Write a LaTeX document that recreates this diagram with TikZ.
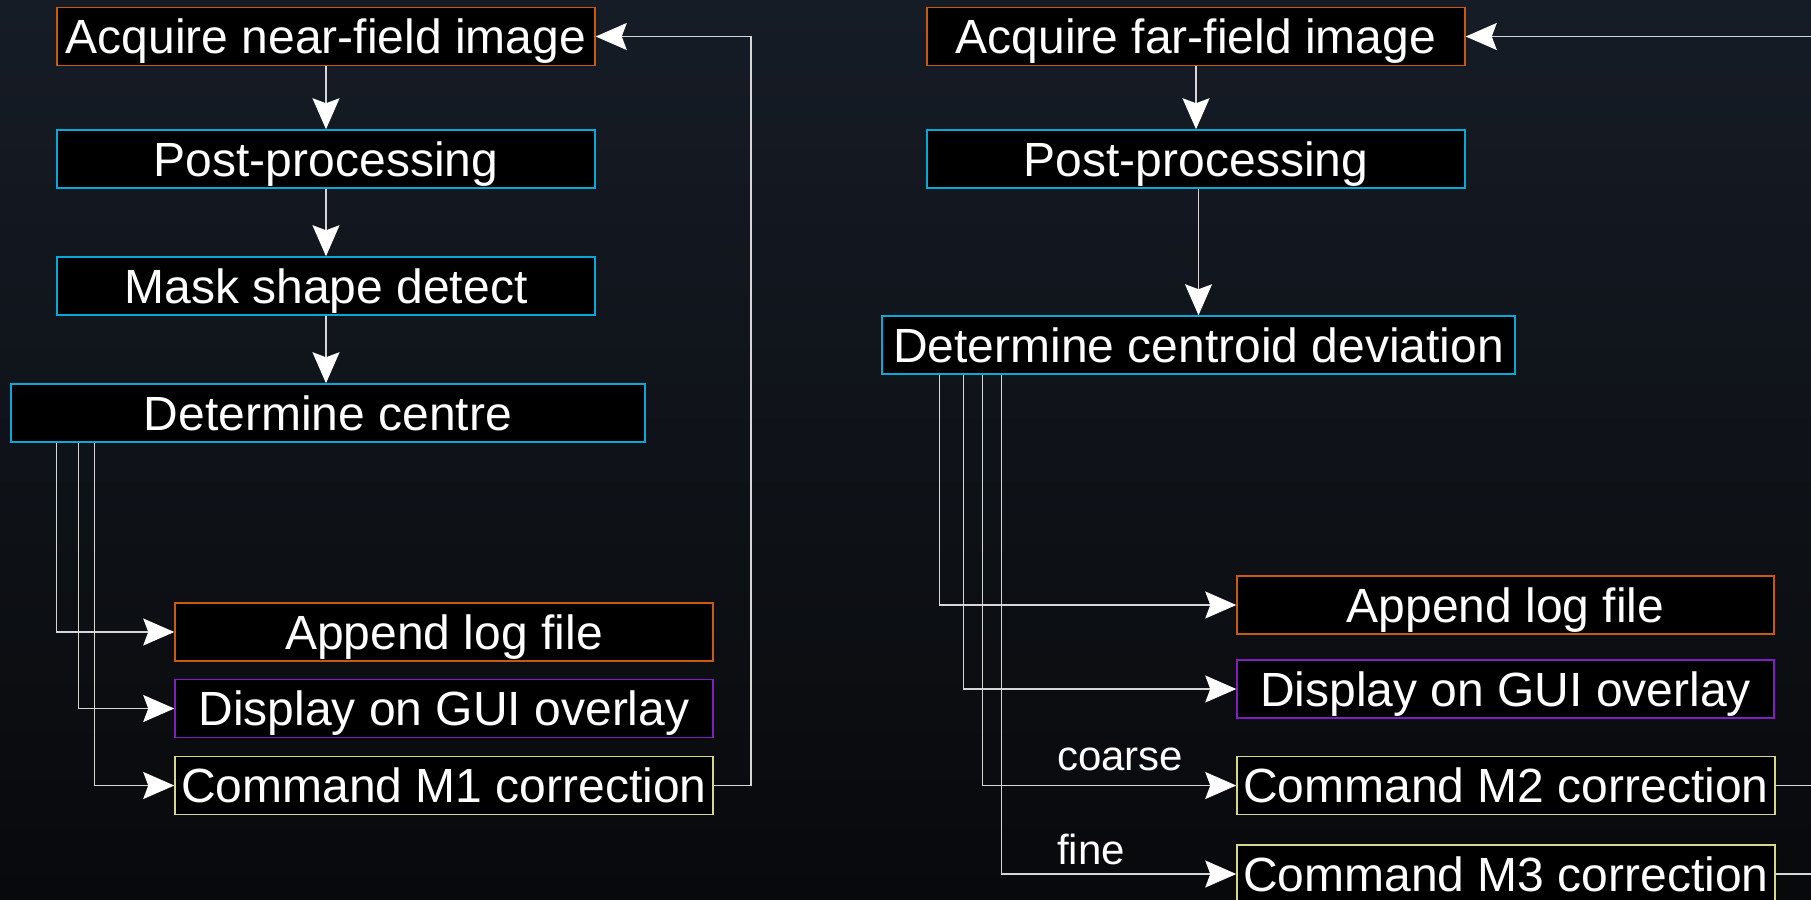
\documentclass[tikz,border=0pt]{standalone}
\usepackage{fontspec}
\setmainfont{Liberation Sans}
\usetikzlibrary{arrows.meta,calc}
\definecolor{bgtop}{HTML}{161C26}
\definecolor{bgbot}{HTML}{08090B}
\definecolor{cOr}{HTML}{C85A14}
\definecolor{cCy}{HTML}{0AA8D6}
\definecolor{cPu}{HTML}{7F1FC0}
\definecolor{cYe}{HTML}{D6D68C}
\definecolor{linec}{HTML}{D6D6D6}
\begin{document}
\begin{tikzpicture}[x=1pt,y=-1pt,
  box/.style={draw, fill=black, text=white, line width=1.5pt, inner sep=0pt,
    minimum height=58pt, minimum width=538pt, text height=34.4pt, text depth=0pt,
    font=\fontsize{48}{57}\selectfont, anchor=center},
  lbl/.style={text=white, inner sep=0pt, font=\fontsize{42}{50}\selectfont},
  conn/.style={draw=linec, line width=1.5pt},
  arr/.style={conn, -{Stealth[length=31pt,width=27pt,inset=5pt,white]}}]
\useasboundingbox (0,0) rectangle (1811,899);
\clip (0,0) rectangle (1811,899);
\shade[top color=bgtop, bottom color=bgbot] (0,0) rectangle (1811,899);

% left column
\node[box, draw=cOr] (acqN) at (326,36.5) {Acquire near-field image};
\node[box, draw=cCy] (postN) at (326,159) {Post-processing};
\node[box, draw=cCy] (maskN) at (326,286) {Mask shape detect};
\node[box, draw=cCy, minimum width=634pt] (centN) at (328,413) {Determine centre};
\node[box, draw=cOr] (logN) at (444,632) {Append log file};
\node[box, draw=cPu] (guiN) at (444,708.5) {Display on GUI overlay};
\node[box, draw=cYe] (m1) at (444,785.5) {Command M1 correction};

\draw[arr] (acqN.south) -- (postN.north);
\draw[arr] (postN.south) -- (maskN.north);
\draw[arr] (maskN.south) -- (maskN.south |- centN.north);
\draw[arr] ([xshift=46pt]centN.south west) |- (logN.west);
\draw[arr] ([xshift=68pt]centN.south west) |- (guiN.west);
\draw[arr] ([xshift=84pt]centN.south west) |- (m1.west);
\draw[arr] (m1.east) -- ++(37,0) |- (acqN.east);

% right column
\node[box, draw=cOr] (acqF) at (1196,36.5) {Acquire far-field image};
\node[box, draw=cCy] (postF) at (1196,159) {Post-processing};
\node[box, draw=cCy, minimum width=633pt] (centF) at (1198.5,345) {Determine centroid deviation};
\node[box, draw=cOr, minimum width=537pt] (logF) at (1505.5,605) {Append log file};
\node[box, draw=cPu, minimum width=537pt] (guiF) at (1505.5,689) {Display on GUI overlay};
\node[box, draw=cYe] (m2) at (1506,785.5) {Command M2 correction};
\node[box, draw=cYe] (m3) at (1506,874) {Command M3 correction};

\draw[arr] (acqF.south) -- (postF.north);
\draw[arr] (postF.south -| centF.north) -- (centF.north);
\draw[arr] ([xshift=58pt]centF.south west) |- (logF.west);
\draw[arr] ([xshift=82pt]centF.south west) |- (guiF.west);
\draw[arr] ([xshift=101pt]centF.south west) |- (m2.west);
\draw[arr] ([xshift=120pt]centF.south west) |- (m3.west);

\node[lbl, anchor=base west] (coarse) at (1057,770) {coarse};
\node[lbl, anchor=base west] (fine) at (1057,864) {fine};

\coordinate (eT) at (1811,36.5);
\coordinate (eR2) at (1811,785.5);
\coordinate (eR3) at (1811,874);
\draw[arr] (eT) -- (acqF.east);
\draw[conn] (m2.east) -- (eR2);
\draw[conn] (m3.east) -- (eR3);
\end{tikzpicture}
\end{document}
